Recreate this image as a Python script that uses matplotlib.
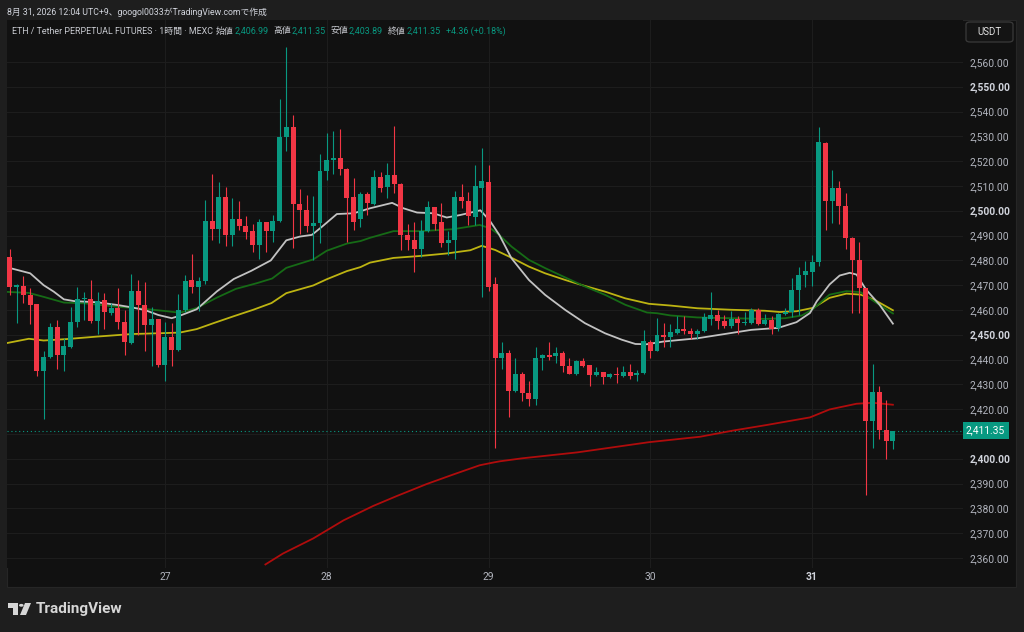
import numpy as np
import matplotlib
matplotlib.use('Agg')
import matplotlib.pyplot as plt
from matplotlib.patches import Rectangle, FancyBboxPatch, Polygon, Circle

# hourly candles, hour 0 = 27th 00:00 (UTC+9)
hours = np.arange(-23, 109)
opens = [2481.3, 2469.2, 2469.7, 2466.0, 2462.3, 2435.6, 2441.0, 2453.0, 2441.7, 2445.0, 2455.0, 2464.3,
         2464.3, 2455.7, 2463.9, 2458.7, 2460.7, 2455.3, 2446.7, 2467.7, 2462.0, 2454.0, 2456.3, 2438.0,
         2449.1, 2443.7, 2460.0, 2472.0, 2469.4, 2471.6, 2495.7, 2492.5, 2505.5, 2490.3, 2496.8, 2493.8,
         2491.7, 2486.1, 2495.4, 2491.9, 2495.8, 2529.8, 2533.9, 2502.6, 2500.3, 2493.7, 2494.9, 2516.0,
         2520.6, 2521.2, 2517.0, 2505.5, 2496.6, 2506.8, 2502.7, 2513.6, 2509.6, 2514.6, 2511.0, 2490.4,
         2488.3, 2484.4, 2491.8, 2501.6, 2495.3, 2486.9, 2488.3, 2505.7, 2504.0, 2497.6, 2509.1, 2511.6,
         2470.4, 2440.8, 2442.6, 2427.5, 2434.2, 2426.7, 2424.0, 2440.8, 2441.9, 2441.4, 2442.6, 2437.6,
         2434.1, 2439.5, 2437.9, 2433.8, 2435.0, 2432.9, 2434.2, 2433.4, 2434.9, 2433.6, 2434.5, 2447.3,
         2443.5, 2450.0, 2449.2, 2450.9, 2452.3, 2451.6, 2450.3, 2451.6, 2456.4, 2457.9, 2455.6, 2453.6,
         2456.3, 2454.7, 2454.8, 2460.1, 2454.2, 2455.9, 2452.7, 2458.3, 2459.1, 2468.0, 2474.2, 2475.5,
         2479.3, 2527.5, 2504.1, 2509.2, 2502.1, 2489.1, 2480.1, 2468.9, 2415.2, 2426.9, 2411.8, 2406.99]
highs = [2484.4, 2470.3, 2473.7, 2469.0, 2462.5, 2443.3, 2454.7, 2456.0, 2448.7, 2461.3, 2469.3, 2467.3,
         2472.0, 2467.3, 2466.7, 2462.7, 2468.7, 2460.0, 2474.7, 2472.3, 2471.3, 2461.3, 2456.5, 2455.3,
         2454.7, 2466.3, 2474.2, 2482.7, 2473.5, 2504.3, 2514.7, 2511.6, 2509.5, 2505.0, 2504.0, 2498.0,
         2494.8, 2496.8, 2495.6, 2498.5, 2545.0, 2566.0, 2538.7, 2508.6, 2506.2, 2506.0, 2522.8, 2531.2,
         2532.1, 2532.8, 2517.2, 2513.4, 2507.7, 2507.7, 2516.5, 2515.8, 2519.2, 2534.3, 2511.2, 2494.5,
         2495.6, 2496.2, 2504.1, 2501.7, 2503.0, 2491.8, 2508.0, 2510.7, 2507.4, 2518.5, 2525.5, 2518.5,
         2473.5, 2447.3, 2443.9, 2440.6, 2435.2, 2431.2, 2445.0, 2442.2, 2447.3, 2444.9, 2443.6, 2440.6,
         2439.9, 2440.8, 2437.9, 2436.9, 2435.0, 2434.8, 2437.2, 2437.6, 2438.1, 2435.9, 2452.0, 2448.0,
         2456.7, 2454.7, 2454.3, 2457.7, 2457.4, 2452.9, 2452.4, 2458.7, 2467.2, 2460.1, 2458.1, 2459.7,
         2457.4, 2459.1, 2461.0, 2460.7, 2458.3, 2457.4, 2458.7, 2461.0, 2472.8, 2477.5, 2479.6, 2482.0,
         2533.8, 2527.6, 2516.4, 2512.2, 2507.2, 2489.3, 2487.5, 2469.0, 2438.3, 2429.3, 2423.9, 2411.35]
lows = [2466.0, 2454.7, 2463.0, 2454.3, 2433.3, 2416.0, 2440.7, 2436.4, 2435.3, 2444.7, 2453.3, 2456.0,
        2454.7, 2450.3, 2452.4, 2458.0, 2452.4, 2442.0, 2446.3, 2450.0, 2443.3, 2437.3, 2437.0, 2431.3,
        2437.3, 2443.3, 2459.3, 2466.7, 2459.4, 2470.5, 2488.4, 2487.0, 2486.0, 2485.9, 2492.2, 2488.7,
        2483.4, 2480.5, 2483.4, 2487.5, 2495.5, 2524.0, 2485.0, 2490.8, 2491.5, 2480.0, 2487.2, 2512.4,
        2514.7, 2514.4, 2487.5, 2492.2, 2493.5, 2498.3, 2502.3, 2507.7, 2505.0, 2507.0, 2484.1, 2484.1,
        2475.3, 2481.4, 2491.5, 2492.2, 2485.5, 2482.1, 2480.7, 2501.0, 2494.2, 2494.2, 2465.4, 2467.8,
        2404.3, 2436.3, 2417.0, 2427.0, 2423.4, 2421.3, 2421.7, 2435.9, 2439.9, 2438.5, 2434.9, 2434.0,
        2433.8, 2437.2, 2429.5, 2433.2, 2430.2, 2432.5, 2430.5, 2432.9, 2432.1, 2431.4, 2434.1, 2440.6,
        2443.3, 2444.9, 2444.9, 2450.5, 2450.5, 2448.2, 2448.4, 2451.3, 2453.8, 2452.4, 2452.7, 2452.9,
        2450.4, 2454.0, 2454.4, 2453.8, 2453.8, 2450.5, 2451.6, 2458.1, 2457.0, 2458.1, 2469.1, 2469.6,
        2477.7, 2492.2, 2494.9, 2494.5, 2484.4, 2458.8, 2458.6, 2385.6, 2404.4, 2408.1, 2400.1, 2403.89]
closes = [2469.1, 2470.0, 2466.0, 2462.0, 2435.6, 2441.1, 2453.0, 2441.7, 2445.6, 2455.0, 2464.3, 2464.6,
          2455.7, 2463.7, 2459.1, 2460.7, 2455.0, 2447.1, 2467.7, 2462.0, 2454.0, 2456.3, 2438.0, 2449.1,
          2443.7, 2460.0, 2471.6, 2469.3, 2471.6, 2495.7, 2492.5, 2505.5, 2490.3, 2496.5, 2493.8, 2491.4,
          2486.1, 2495.4, 2491.9, 2496.0, 2529.9, 2533.6, 2502.6, 2500.3, 2493.7, 2495.2, 2516.0, 2520.6,
          2521.2, 2516.9, 2505.1, 2495.6, 2506.8, 2503.1, 2513.6, 2509.3, 2514.6, 2510.8, 2490.3, 2488.2,
          2484.4, 2491.9, 2501.6, 2494.6, 2486.9, 2488.3, 2505.7, 2503.8, 2498.0, 2509.9, 2511.9, 2469.4,
          2440.8, 2442.6, 2427.5, 2434.2, 2426.7, 2424.2, 2440.8, 2441.9, 2441.2, 2442.7, 2437.5, 2434.1,
          2439.5, 2437.6, 2433.8, 2435.2, 2432.9, 2434.2, 2433.6, 2434.9, 2433.4, 2434.5, 2447.5, 2443.5,
          2450.0, 2449.2, 2451.1, 2452.3, 2451.6, 2450.4, 2451.7, 2457.0, 2457.9, 2455.6, 2453.6, 2456.4,
          2454.8, 2455.1, 2460.1, 2454.2, 2455.9, 2452.5, 2458.5, 2459.1, 2468.1, 2474.2, 2475.8, 2479.3,
          2527.7, 2504.1, 2509.2, 2502.1, 2489.1, 2480.1, 2468.9, 2415.2, 2426.9, 2411.8, 2407.0, 2411.35]

# moving averages (hour, price)
ma_white_x = [-23.4, -20, -18, -16.5, -15, -13.5, -10, -7, -5, -3, -1, 1, 2.3, 4.7, 7.7, 10.2, 12.8, 15.7,
              18, 20, 21.8, 23.3, 25.5, 28, 30.4, 33.7, 35.4, 37.4, 39.8, 41.8, 43.8, 46.8, 48.2, 49.6,
              51.4, 54, 56.4, 59.4, 62.3, 65.3, 67.8, 69.8, 71.5, 74, 79, 83, 87, 91, 93.7, 95.7, 96.7,
              98.6, 100.1, 101.6, 102.6, 104, 106, 108]
ma_white_y = [2477.2, 2474.8, 2470.0, 2467.4, 2464.3, 2463.6, 2463.1, 2462.0, 2461.1, 2460.0, 2458.0, 2456.7,
              2457.8, 2460.3, 2467.5, 2472.5, 2475.8, 2480.0, 2488.1, 2489.6, 2490.3, 2493.6, 2498.7, 2499.0,
              2501.0, 2503.2, 2501.0, 2499.3, 2499.0, 2497.3, 2498.3, 2500.2, 2496.0, 2490.3, 2480.9, 2472.1,
              2466.1, 2460.0, 2454.7, 2450.6, 2448.0, 2446.3, 2446.2, 2447.3, 2448.6, 2450.3, 2452.0, 2452.8,
              2455.1, 2458.8, 2463.5, 2470.3, 2473.9, 2475.0, 2474.3, 2468.3, 2462.2, 2454.5]
ma_green_x = [-23.4, -20.2, -18, -15, -12, -7, -4, 0, 2.2, 4.7, 7.7, 10.5, 13.6, 15.9, 18, 22, 24, 27, 29,
              30.4, 33.9, 37.9, 42.8, 46.7, 48.3, 49.5, 51.4, 54, 56.4, 59.4, 62.3, 65.3, 68.3, 71.5, 73,
              75, 79, 84, 89, 92, 94.5, 96.2, 98.6, 101.1, 103.2, 105.2, 108]
ma_green_y = [2467.3, 2466.9, 2465.3, 2463.0, 2462.7, 2461.3, 2460.7, 2459.6, 2458.9, 2460.8, 2465.0, 2468.5,
              2470.8, 2472.7, 2477.0, 2480.4, 2483.9, 2486.8, 2487.8, 2489.1, 2491.8, 2491.8, 2492.6, 2494.3,
              2492.9, 2490.5, 2485.6, 2480.2, 2476.9, 2473.1, 2469.5, 2466.1, 2462.1, 2459.0, 2458.7, 2457.8,
              2457.0, 2456.7, 2456.4, 2456.7, 2457.8, 2460.5, 2466.2, 2467.6, 2467.2, 2463.5, 2458.6]
ma_yellow_x = [-23.4, -20.2, -18, -14.5, -10, -5, 0, 2.2, 4.7, 7.2, 10.1, 13.1, 15.8, 18, 22, 24, 27, 29,
               30.4, 33.9, 37.9, 41.8, 45.3, 47, 49, 51.4, 54, 56.4, 59.4, 62.3, 65.3, 68.3, 71.8, 75, 79,
               84, 89, 91.2, 93.7, 96.2, 98.6, 101.1, 103.2, 105.2, 108]
ma_yellow_y = [2446.7, 2448.4, 2447.7, 2448.3, 2449.3, 2450.3, 2450.7, 2450.9, 2452.3, 2454.7, 2457.4, 2460.1,
               2462.8, 2466.8, 2469.9, 2472.4, 2475.7, 2477.3, 2479.1, 2481.0, 2481.8, 2482.8, 2484.1, 2485.9,
               2484.2, 2481.1, 2477.5, 2474.8, 2472.1, 2469.7, 2467.4, 2464.7, 2462.5, 2461.8, 2460.7, 2460.1,
               2459.7, 2459.2, 2459.5, 2460.9, 2464.9, 2466.6, 2466.2, 2464.2, 2459.9]
ma_red_x = [14.9, 17.5, 22, 26.5, 30.9, 34.4, 38.8, 42.8, 46.7, 48.7, 49.7, 53, 61.2, 71.8, 79.4, 84.3,
            89.2, 95.7, 98.6, 102.6, 105, 108]
ma_red_y = [2357.4, 2361.8, 2367.9, 2375.2, 2381.0, 2385.0, 2389.8, 2393.7, 2397.4, 2398.5, 2399.0, 2400.2,
            2402.6, 2406.7, 2408.9, 2411.4, 2413.6, 2416.7, 2419.9, 2422.2, 2422.6, 2421.8]

day_ticks = [0, 24, 48, 72, 96]
day_labels = ['27', '28', '29', '30', '31']
price_ticks = list(range(2360, 2561, 10))
last_price = 2411.35

UP = '#089981'
DOWN = '#f23645'
BG = '#111111'
OUTER = '#1e1e1e'
GRID = '#1d1d1d'
TXT = '#b2b5be'
HEAD = '#c8cad0'
JP = ['Roboto', 'Noto Sans CJK JP']


def px(x, y):
    return x / 1024, 1 - y / 632


fig = plt.figure(figsize=(10.24, 6.32), dpi=100, facecolor=OUTER)
renderer = fig.canvas.get_renderer()

# chart panel
x0, y0 = px(7, 587)
fig.patches.append(Rectangle((x0, y0), (1016 - 7) / 1024, (587 - 20) / 632, transform=fig.transFigure,
                             facecolor=BG, edgecolor='#262626', lw=0.8, zorder=-5))

ax = fig.add_axes([7 / 1024, 1 - 568 / 632, (963 - 7) / 1024, (568 - 20) / 632])
ax.set_zorder(1)
ax.set_facecolor(BG)
for s in ax.spines.values():
    s.set_visible(False)

ax.set_xlim(-23.44, 118.4)
ax.set_ylim(2355.97, 2576.94)

for p in price_ticks:
    ax.axhline(p, color=GRID, lw=0.8, zorder=0)
for d in day_ticks:
    ax.axvline(d, color=GRID, lw=0.8, zorder=0)

# moving averages
ax.plot(ma_red_x, ma_red_y, color='#b00c0c', lw=1.3, zorder=2)
ax.plot(ma_yellow_x, ma_yellow_y, color='#bdb412', lw=1.3, zorder=2)
ax.plot(ma_green_x, ma_green_y, color='#166b16', lw=1.3, zorder=2)
ax.plot(ma_white_x, ma_white_y, color='#c2c2c2', lw=1.3, zorder=2)

# candles
o = np.array(opens)
h = np.array(highs)
l = np.array(lows)
c = np.array(closes)
cols = np.where(c >= o, UP, DOWN)
ax.vlines(hours, l, h, colors=cols, lw=0.8, zorder=3)
body_lo = np.minimum(o, c)
body_h = np.maximum(np.abs(c - o), 0.45)
ax.bar(hours, body_h, bottom=body_lo, width=0.74, color=cols, lw=0, zorder=4)

# last price line + label
ax.axhline(last_price, color=UP, lw=0.8, ls=(0, (1, 2.5)), zorder=1)
ax.text(1.0 + 3 / 956, last_price, f'{last_price:,.2f}', transform=ax.get_yaxis_transform(),
        ha='left', va='center', color='white', fontsize=7.4, family='Roboto', clip_on=False,
        bbox=dict(boxstyle='square,pad=0.32', facecolor=UP, edgecolor='none'))

# axes ticks
ax.set_xticks(day_ticks)
ax.set_xticklabels(day_labels)
ax.tick_params(axis='x', length=0, pad=3, labelsize=7.4, labelcolor=TXT)
for t in ax.get_xticklabels():
    t.set_family('Roboto')
ax.get_xticklabels()[-1].set_fontweight('bold')
ax.get_xticklabels()[-1].set_color('#d1d4dc')

yt = [p for p in price_ticks if p != 2410]
ax.yaxis.tick_right()
ax.set_yticks(yt)
ax.set_yticklabels([f'{p:,.2f}' for p in yt])
ax.tick_params(axis='y', length=0, pad=5, labelsize=7.4, labelcolor=TXT)
for t, p in zip(ax.get_yticklabels(), yt):
    t.set_family('Roboto')
    if p % 50 == 0:
        t.set_fontweight('bold')
        t.set_color('#d1d4dc')

# header texts
fig.text(*px(7, 12), '8月 31, 2026 12:04 UTC+9、googol0033がTradingView.comで作成',
         color='#d1d4dc', fontsize=6.3, family=JP, va='center')

# legend row, laid out piece by piece
legend_parts = [('ETH / Tether PERPETUAL FUTURES · 1時間 · MEXC', HEAD, 3),
                ('始値', HEAD, 0.5), ('2,406.99', UP, 5),
                ('高値', HEAD, 0.5), ('2,411.35', UP, 5),
                ('安値', HEAD, 0.5), ('2,403.89', UP, 5),
                ('終値', HEAD, 0.5), ('2,411.35', UP, 5),
                ('+4.36 (+0.18%)', UP, 0)]
cur = 12
for txt, col, gap in legend_parts:
    t = fig.text(*px(cur, 31), txt, color=col, fontsize=6.4, family=JP, va='center')
    bb = t.get_window_extent(renderer)
    cur = bb.x1 + gap

# currency box
bx, by = px(966, 42)
fig.patches.append(FancyBboxPatch((bx, by), 47 / 1024, 20 / 632, transform=fig.transFigure,
                                  boxstyle='round,pad=0,rounding_size=0.004',
                                  facecolor='#141414', edgecolor='#3a3a3a', lw=0.9, zorder=2))
fig.text(*px(989.5, 32), 'USDT', color='#e0e0e0', fontsize=7, family='Roboto',
         ha='center', va='center', zorder=3)

# TradingView logo
logo_col = '#d6d6d6'
fig.patches.append(Polygon([px(8, 603), px(18, 603), px(18, 615), px(13, 615), px(13, 608), px(8, 608)],
                           closed=True, transform=fig.transFigure, facecolor=logo_col, edgecolor='none'))
cx, cy = px(21.3, 605.3)
fig.patches.append(Circle((cx, cy), 2.3 / 1024, transform=fig.transFigure, facecolor=logo_col,
                          edgecolor='none'))
fig.patches.append(Polygon([px(25, 603), px(31, 603), px(26, 615), px(20, 615)], closed=True,
                           transform=fig.transFigure, facecolor=logo_col, edgecolor='none'))
fig.text(*px(36, 609), 'TradingView', color=logo_col, fontsize=11, family='Roboto',
         fontweight='bold', va='center')

fig.savefig('out.png', dpi=100, facecolor=OUTER)
